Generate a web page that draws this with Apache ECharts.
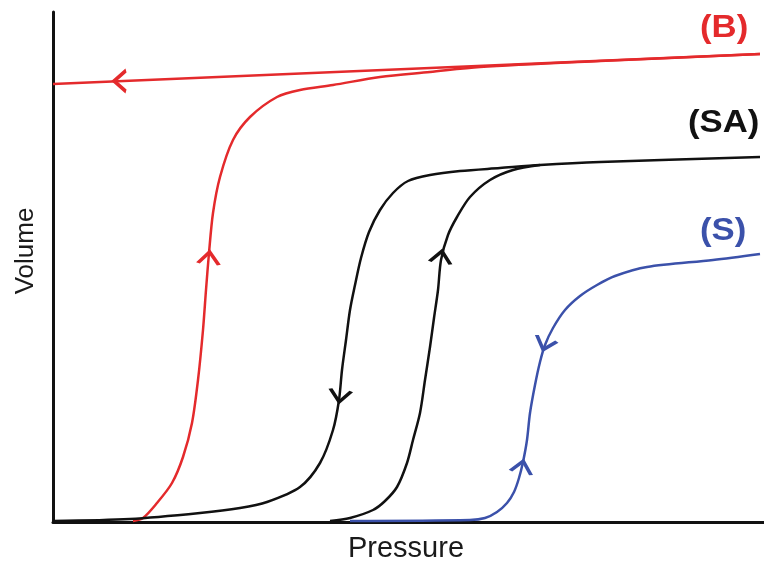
<!DOCTYPE html>
<html>
<head>
<meta charset="utf-8">
<script src="https://cdn.jsdelivr.net/npm/echarts@6/dist/echarts.min.js"></script>
<style>html,body{margin:0;padding:0;background:#fff}#c{width:764px;height:567px}</style>
</head>
<body>
<div id="c"></div>
<script>
// Values (pressure, volume in arbitrary plot units)
var bUpX = [80, 90, 104, 119, 130, 139, 145, 150, 153, 156, 160, 167, 180, 197, 224, 247, 280, 327, 377, 427, 547, 707];
var bUpY = [1, 4, 19, 39, 65, 99, 142, 192, 232, 269, 309, 345, 382, 405, 425, 432, 437, 445, 450, 455, 461, 468];
var bBackX = [707, 0];
var bBackY = [468, 438];

var saDownX = [707, 547, 487, 447, 407, 377, 355, 340, 327, 316, 308, 302, 297, 293, 289, 286, 280, 267, 247, 214, 187, 147, 77, 0];
var saDownY = [365, 360, 357, 354, 351, 347, 341, 329, 312, 290, 264, 237, 212, 182, 152, 122, 92, 59, 35, 20, 14, 9, 3, 1];
var saUpX = [277, 297, 320, 332, 344, 354, 360, 367, 372, 377, 381, 385, 388, 395, 404, 417, 437, 460, 487];
var saUpY = [1, 4, 12, 21, 35, 59, 82, 109, 142, 175, 204, 232, 262, 287, 305, 325, 342, 352, 357];

var sX = [297, 417, 432, 444, 454, 461, 466, 470, 474, 477, 482, 487, 492, 500, 512, 527, 544, 562, 594, 660, 707];
var sY = [1, 2, 4, 10, 19, 30, 44, 60, 82, 109, 137, 160, 177, 194, 212, 226, 237, 246, 255, 262, 268];

// direction arrows: position and heading (degrees, counter-clockwise from up)
var bArrowX = [67, 156];
var bArrowY = [441, 264];
var bArrowDir = [90, -6];
var saArrowX = [287, 388];
var saArrowY = [126, 265];
var saArrowDir = [172, -9];
var sArrowX = [492, 469];
var sArrowY = [178, 55];
var sArrowDir = [162, -12];

var labels = ['(B)', '(SA)', '(S)'];
var xName = 'Pressure';
var yName = 'Volume';

function pts(xs, ys) { return xs.map(function (x, i) { return [x, ys[i]]; }); }
function arrows(xs, ys, dirs) {
  return xs.map(function (x, i) { return { value: [x, ys[i]], symbolRotate: dirs[i] }; });
}

var RED = '#e42a2c', BLACK = '#111111', BLUE = '#3b51aa';
var chev = 'path://M0,12 L11,0 L22,12';
var font = 'Liberation Sans, Arial, Helvetica, sans-serif';

function lineS(data, color) {
  return { type: 'line', data: data, showSymbol: false, smooth: 0.3, silent: true,
    lineStyle: { color: color, width: 2.5 }, z: 3 };
}
function arrowS(data, color) {
  return { type: 'scatter', data: data, symbol: chev, symbolSize: [21, 12], silent: true,
    itemStyle: { color: 'rgba(0,0,0,0)', borderColor: color, borderWidth: 3.2, opacity: 1 }, z: 4 };
}
function lbl(x, y, t, c) {
  return { type: 'text', x: x, y: y, scaleX: 1.12, style: { text: t, font: 'bold 31px ' + font, fill: c, align: 'left', verticalAlign: 'middle' } };
}

var chart = echarts.init(document.getElementById('c'), null, { renderer: 'canvas' });
chart.setOption({
  animation: false,
  backgroundColor: '#fff',
  grid: { left: 53, right: 0, top: 12, bottom: 45 },
  xAxis: { type: 'value', min: 0, max: 711,
    axisLine: { show: true, lineStyle: { color: BLACK, width: 3 } },
    axisTick: { show: false }, axisLabel: { show: false }, splitLine: { show: false } },
  yAxis: { type: 'value', min: 0, max: 510,
    axisLine: { show: true, lineStyle: { color: BLACK, width: 3 } },
    axisTick: { show: false }, axisLabel: { show: false }, splitLine: { show: false } },
  series: [
    lineS(pts(sX, sY), BLUE),
    lineS(pts(bUpX, bUpY), RED),
    lineS(pts(bBackX, bBackY), RED),
    lineS(pts(saDownX, saDownY), BLACK),
    lineS(pts(saUpX, saUpY), BLACK),
    arrowS(arrows(bArrowX, bArrowY, bArrowDir), RED),
    arrowS(arrows(saArrowX, saArrowY, saArrowDir), BLACK),
    arrowS(arrows(sArrowX, sArrowY, sArrowDir), BLUE)
  ],
  graphic: [
    lbl(700, 28, labels[0], RED),
    lbl(688, 123, labels[1], BLACK),
    lbl(700, 231, labels[2], BLUE),
    { type: 'text', x: 406, y: 549, style: { text: xName, font: '29px ' + font, fill: '#1a1a1a', align: 'center', verticalAlign: 'middle' } },
    { type: 'text', x: 26, y: 251, rotation: Math.PI / 2, style: { text: yName, font: '26px ' + font, fill: '#1a1a1a', align: 'center', verticalAlign: 'middle' } }
  ]
});
</script>
</body>
</html>
